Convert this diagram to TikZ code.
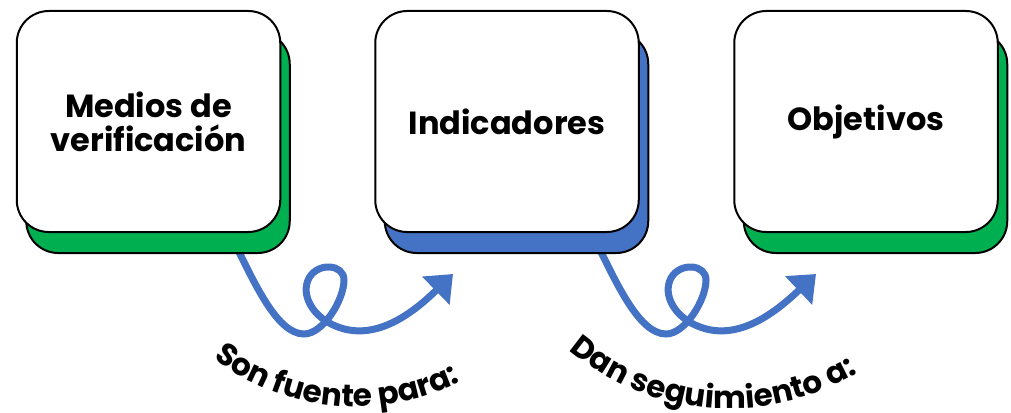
\documentclass[tikz,border=0pt]{standalone}
\usepackage{fontspec}
\setmainfont{Poppins}
\usetikzlibrary{arrows.meta,decorations.text,calc}
\definecolor{mygreen}{HTML}{00B050}
\definecolor{myblue}{HTML}{4472C4}
\newcommand\myloop[2]{%
  \draw[looparrow] (#1)
    .. controls ($(#1)+(18,36)$) and ($(#1)+(40,84)$) .. ($(#1)+(66,84)$)
    .. controls ($(#1)+(85,84)$) and ($(#1)+(106,50)$) .. ($(#1)+(106,30)$)
    .. controls ($(#1)+(106,14)$) and ($(#1)+(80,12)$) .. ($(#1)+(71,28)$)
    .. controls ($(#1)+(62,45)$) and ($(#1)+(75,68)$) .. ($(#1)+(100,77)$)
    .. controls ($(#1)+(140,92)$) and ($(#1)+(178,60)$) .. (#2);}
\begin{document}
\begin{tikzpicture}[x=1pt,y=-1pt,
  card/.style={draw=black, line width=2pt, fill=white, rounded corners=32pt,
    minimum width=263.5pt, minimum height=221pt, inner sep=0pt, align=center,
    font=\bfseries\fontsize{32}{34}\selectfont},
  shadowcard/.style={draw=black, line width=2pt, rounded corners=32pt,
    minimum width=263.5pt, minimum height=221pt},
  looparrow/.style={draw=myblue, line width=7pt, -{Triangle[length=24pt,width=38pt]}},
  arclabel/.style={decorate, decoration={text along path, text align=center, text={#1}}}
]
\useasboundingbox[fill=white] (0,0) rectangle (1011,412);

% arrows (drawn first, their starts tuck under the shadows)
\coordinate (s1) at (238,250);
\coordinate (t1) at (453,274);
\coordinate (s2) at (600,250);
\coordinate (t2) at (816,274);
\myloop{s1}{t1}
\myloop{s2}{t2}

% shadows
\node[shadowcard, fill=mygreen] (sh1) at (158,142.5) {};
\node[shadowcard, fill=myblue]  (sh2) at (516.5,142.5) {};
\node[shadowcard, fill=mygreen] (sh3) at (875.5,142.5) {};

% cards
\node[card] (c1) at (148.5,121.5) {Medios de\\verificación};
\node[card] (c2) at (507,121.5) {Indicadores};
\node[card] (c3) at (866,121.5) {Objetivos};

% curved labels
\path[arclabel={|\bfseries\fontsize{31}{31}\selectfont|Son fuente para:}]
  (356,172.6) ++(145:234) arc[start angle=145, end angle=46, radius=234];
\path[arclabel={|\bfseries\fontsize{31}{31}\selectfont|Dan seguimiento a:}]
  (729,160.6) ++(145:248) arc[start angle=145, end angle=44, radius=248];
\end{tikzpicture}
\end{document}
